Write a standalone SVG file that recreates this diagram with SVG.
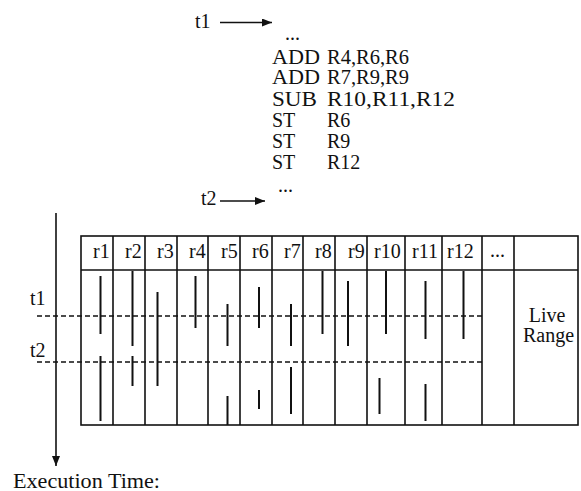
<svg xmlns="http://www.w3.org/2000/svg" width="581" height="491" viewBox="0 0 581 491">
<defs>
<style>
text{font-family:"Liberation Serif","Times New Roman",serif;font-size:20px;fill:#111}
.ln{stroke:#111;stroke-width:1.6;fill:none}
.bar{stroke:#111;stroke-width:2;fill:none}
.dash{stroke:#111;stroke-width:1.5;stroke-dasharray:5 3;fill:none}
</style>
<marker id="ah" viewBox="0 0 10 8" refX="10" refY="4" markerWidth="10" markerHeight="8" markerUnits="userSpaceOnUse" orient="auto">
<path d="M0,0 L10,4 L0,8 Z" fill="#111"/>
</marker>
</defs>
<rect width="581" height="491" fill="#fff"/>

<g id="code">
<text x="195" y="28">t1</text>
<text x="285" y="40">...</text>
<text x="272" y="64" textLength="48" lengthAdjust="spacingAndGlyphs">ADD</text>
<text x="327" y="64" textLength="82" lengthAdjust="spacingAndGlyphs">R4,R6,R6</text>
<text x="272" y="84" textLength="48" lengthAdjust="spacingAndGlyphs">ADD</text>
<text x="327" y="84" textLength="82" lengthAdjust="spacingAndGlyphs">R7,R9,R9</text>
<text x="272" y="106" textLength="45" lengthAdjust="spacingAndGlyphs">SUB</text>
<text x="327" y="106" textLength="128" lengthAdjust="spacingAndGlyphs">R10,R11,R12</text>
<text x="272" y="127">ST</text>
<text x="327" y="127">R6</text>
<text x="272" y="148">ST</text>
<text x="327" y="148">R9</text>
<text x="272" y="169">ST</text>
<text x="327" y="169">R12</text>
<text x="278" y="192">...</text>
<text x="201" y="205">t2</text>
</g>

<g id="connectors">
<line class="ln" x1="220" y1="22.5" x2="272" y2="22.5" marker-end="url(#ah)"/>
<line class="ln" x1="220" y1="201" x2="265" y2="201" marker-end="url(#ah)"/>
<line class="ln" x1="56" y1="213" x2="56" y2="466" marker-end="url(#ah)"/>
</g>

<g id="table">
<rect class="ln" x="81" y="236" width="497" height="189"/>
<line class="ln" x1="81" y1="270" x2="578" y2="270"/>
<path class="ln" d="M113,236V425M145,236V425M177,236V425M208,236V425M240,236V425M272,236V425M303,236V425M335,236V425M367,236V425M405,236V425M442,236V425M482,236V425M514,236V425"/>
<text x="93" y="258">r1</text>
<text x="125" y="258">r2</text>
<text x="157" y="258">r3</text>
<text x="189" y="258">r4</text>
<text x="221" y="258">r5</text>
<text x="252" y="258">r6</text>
<text x="284" y="258">r7</text>
<text x="315" y="258">r8</text>
<text x="348" y="258">r9</text>
<text x="374" y="258">r10</text>
<text x="412" y="258">r11</text>
<text x="447" y="258">r12</text>
<text x="490" y="257">...</text>
<text x="547" y="322" text-anchor="middle">Live</text>
<text x="523" y="342">Range</text>
</g>

<g id="times">
<text x="30" y="305">t1</text>
<text x="30" y="357">t2</text>
<line class="dash" x1="37" y1="316" x2="482" y2="316"/>
<line class="dash" x1="37" y1="362" x2="482" y2="362"/>
</g>

<g id="ranges">
<path class="bar" d="M100.5,276V334M100.5,356V421M132.5,271V346M132.5,356V386M157.5,292V386M195.5,276V328M227.5,304V346M227.5,396V425M259,287V328M259,390V409M291,304V346M291,367V414M322.5,271V334M348,281V346M386,271V334M379.5,378V414M425.5,281V339M425.5,384V421M463.5,271V339"/>
</g>

<g id="axis-label">
<text x="13" y="488" textLength="147" lengthAdjust="spacingAndGlyphs">Execution Time:</text>
</g>
</svg>
